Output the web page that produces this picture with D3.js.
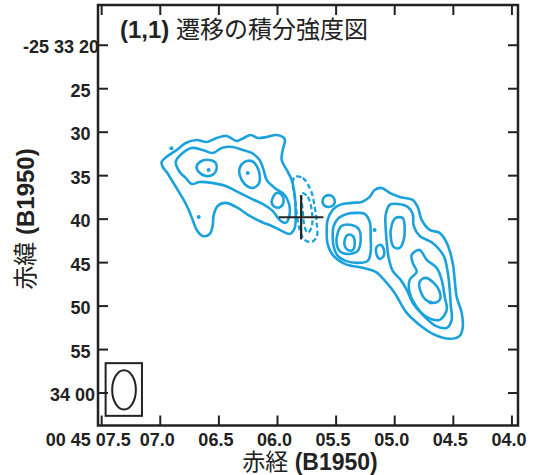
<!DOCTYPE html>
<html>
<head>
<meta charset="utf-8">
<script src="https://cdn.jsdelivr.net/npm/d3@7"></script>
<style>
body{margin:0;background:#fff;}
</style>
</head>
<body>
<svg width="537" height="475"></svg>
<script>
// RA seconds (00h45m..) on x, Dec arcsec past -25 33 00 on y
var raDomain=[7.527,3.944], decDomain=[15.43,63.79];
var raTicks=[7.5,7.0,6.5,6.0,5.5,5.0,4.5,4.0];
var raTickLabels=["00 45 07.5","07.0","06.5","06.0","05.5","05.0","04.5","04.0"];
var decTicks=[20,25,30,35,40,45,50,55,60];
var decTickLabels=["-25 33 20","25","30","35","40","45","50","55","34 00"];

// positive contours (solid)
var westOuter=[[6.984,33.48],[6.933,32.79],[6.856,32.10],[6.779,31.30],[6.685,30.95],[6.600,31.18],[6.515,30.72],[6.429,30.49],[6.344,31.07],[6.284,30.72],[6.224,30.38],[6.165,30.72],[6.088,30.61],[6.003,30.38],[5.934,30.84],[5.951,32.10],[5.960,33.25],[5.917,34.40],[5.875,35.55],[5.849,37.27],[5.841,39.23],[5.849,41.07],[5.892,41.76],[5.960,41.41],[6.045,40.84],[6.131,40.38],[6.233,39.69],[6.335,38.77],[6.438,38.19],[6.506,38.54],[6.540,39.57],[6.549,40.84],[6.574,41.76],[6.634,41.99],[6.685,41.30],[6.719,40.15],[6.753,39.00],[6.796,37.85],[6.847,36.70],[6.899,35.55],[6.941,34.63],[6.975,34.05]];
var westSecond=[[6.864,33.48],[6.805,32.45],[6.728,31.87],[6.634,32.10],[6.549,32.45],[6.472,31.87],[6.378,31.76],[6.293,32.10],[6.216,32.45],[6.148,33.25],[6.114,34.40],[6.088,35.55],[6.020,36.47],[5.943,37.16],[5.900,38.19],[5.892,39.46],[5.926,40.49],[5.977,40.15],[6.037,39.11],[6.122,38.31],[6.233,37.62],[6.335,36.93],[6.438,36.24],[6.557,35.89],[6.660,35.78],[6.728,36.01],[6.779,35.32],[6.830,34.63]];
var westPeakA=[[6.685,33.94],[6.643,33.37],[6.574,33.25],[6.523,33.60],[6.515,34.28],[6.549,34.97],[6.608,35.09],[6.668,34.63]];
var westPeakB=[[6.318,34.17],[6.276,33.48],[6.216,33.37],[6.173,33.94],[6.148,34.97],[6.156,36.01],[6.207,36.47],[6.276,36.01],[6.318,34.97]];
var westPeakC=[[6.037,37.62],[6.003,37.04],[5.960,37.27],[5.943,37.96],[5.969,38.65],[6.020,38.65],[6.045,38.19]];
var smallClump=[[5.610,37.85],[5.585,37.39],[5.533,37.39],[5.508,37.85],[5.516,38.42],[5.568,38.65],[5.602,38.42]];
var eastOuter=[[5.568,40.15],[5.525,39.00],[5.465,38.42],[5.363,38.19],[5.277,38.08],[5.209,37.50],[5.167,36.70],[5.107,36.47],[5.039,37.04],[4.953,37.50],[4.842,37.85],[4.800,38.65],[4.766,40.15],[4.697,41.30],[4.612,41.64],[4.552,42.79],[4.501,45.09],[4.484,47.04],[4.467,49.00],[4.424,50.84],[4.416,52.56],[4.441,53.48],[4.527,53.82],[4.655,53.36],[4.783,52.22],[4.893,50.84],[4.996,48.54],[5.064,47.39],[5.158,46.12],[5.269,45.66],[5.422,45.20],[5.525,44.17],[5.568,42.91],[5.576,41.53]];
var eastWest2=[[5.516,40.84],[5.474,39.92],[5.405,39.46],[5.320,39.34],[5.252,39.46],[5.209,40.38],[5.201,42.10],[5.201,43.83],[5.226,44.86],[5.312,45.09],[5.414,44.86],[5.482,44.29],[5.516,43.25],[5.525,41.99]];
var eastWest3=[[5.482,41.64],[5.448,40.84],[5.363,40.72],[5.303,41.18],[5.286,42.45],[5.312,43.71],[5.380,44.06],[5.457,43.83],[5.491,42.91]];
var eastWest4=[[5.422,42.45],[5.397,41.87],[5.354,41.99],[5.337,42.79],[5.354,43.60],[5.397,43.60],[5.422,43.14]];
var eastGap=[[5.149,43.25],[5.115,43.02],[5.090,43.48],[5.090,44.29],[5.124,44.63],[5.149,44.17]];
var eastEast2=[[5.073,39.57],[5.039,38.42],[4.970,38.31],[4.885,38.65],[4.842,39.46],[4.834,40.84],[4.783,41.99],[4.672,42.79],[4.578,44.29],[4.544,46.12],[4.527,48.08],[4.518,49.92],[4.510,51.64],[4.552,52.56],[4.646,52.33],[4.757,51.07],[4.842,49.69],[4.893,48.19],[4.945,47.04],[5.013,46.01],[5.047,44.51],[5.064,42.68],[5.073,41.07]];
var eastNorth3=[[5.021,40.72],[4.987,39.92],[4.928,39.92],[4.911,41.07],[4.919,42.45],[4.953,43.37],[5.004,43.25],[5.030,42.10]];
var eastEast3=[[4.851,44.17],[4.783,43.60],[4.723,44.74],[4.638,45.66],[4.595,47.04],[4.569,49.00],[4.552,50.49],[4.612,51.64],[4.723,51.30],[4.808,50.15],[4.868,48.54],[4.868,47.04],[4.808,46.12],[4.842,45.09]];
var eastEast4=[[4.783,47.27],[4.731,46.81],[4.663,47.39],[4.612,48.42],[4.612,49.34],[4.672,49.69],[4.731,49.34],[4.774,48.42]];
var positiveContours=[westOuter,westSecond,westPeakA,westPeakB,westPeakC,smallClump,eastOuter,eastWest2,eastWest3,eastWest4,eastGap,eastEast2,eastNorth3,eastEast3,eastEast4];
// tiny unresolved contour spots
var contourSpots=[[6.583,34.40],[6.250,34.74],[6.901,31.91],[6.668,39.80],[5.167,41.30],[4.691,49.65]];

// negative contours (dashed)
var negOuter=[[5.849,35.20],[5.781,35.32],[5.713,36.70],[5.678,38.65],[5.661,40.49],[5.661,42.10],[5.704,42.68],[5.764,42.45],[5.806,41.30],[5.832,39.34],[5.849,37.50],[5.866,35.89]];
var negInner=[[5.789,37.04],[5.738,37.50],[5.704,39.00],[5.704,40.95],[5.738,41.64],[5.764,40.95],[5.781,39.00]];
var negativeContours=[negOuter,negInner];

// source position cross and beam
var crossCenter=[5.794,39.84], crossArms=[0.19,2.55];
var beamCenter=[7.305,59.69], beamAxes=[0.101,2.26];
var beamFrame=[[7.462,56.62],[7.152,62.68]];

var mLeft=98,mRight=518,mTop=5,mBottom=425.5;
var lineColor="#1ba1dc";
var latin='"Liberation Sans", Arial, Helvetica, sans-serif';
var cjk='"Liberation Sans", Arial, "Noto Sans CJK JP", sans-serif';

var svg=d3.select('svg');

var x=d3.scaleLinear().domain(raDomain).range([mLeft,mRight]);
var y=d3.scaleLinear().domain(decDomain).range([mTop,mBottom]);

var contourLine=d3.line()
    .x(d=>x(d[0]))
    .y(d=>y(d[1]))
    .curve(d3.curveCatmullRomClosed.alpha(0.5));

svg.append('g').selectAll('path')
    .data(positiveContours)
    .enter()
    .append('path')
    .attr('d',contourLine)
    .attr('fill','none')
    .attr('stroke',lineColor)
    .attr('stroke-width',2.6)
    .attr('stroke-linejoin','round');

svg.append('g').selectAll('path')
    .data(negativeContours)
    .enter()
    .append('path')
    .attr('d',contourLine)
    .attr('fill','none')
    .attr('stroke',lineColor)
    .attr('stroke-width',2.3)
    .attr('stroke-dasharray','5,3');

svg.append('g').selectAll('circle')
    .data(contourSpots)
    .enter()
    .append('circle')
    .attr('cx',d=>x(d[0]))
    .attr('cy',d=>y(d[1]))
    .attr('r',2)
    .attr('fill',lineColor);

// cross
svg.append('line')
    .attr('x1',x(crossCenter[0]+crossArms[0])).attr('x2',x(crossCenter[0]-crossArms[0]))
    .attr('y1',y(crossCenter[1])).attr('y2',y(crossCenter[1]))
    .attr('stroke','#222').attr('stroke-width',2.2);
svg.append('line')
    .attr('x1',x(crossCenter[0])).attr('x2',x(crossCenter[0]))
    .attr('y1',y(crossCenter[1]-crossArms[1])).attr('y2',y(crossCenter[1]+crossArms[1]))
    .attr('stroke','#222').attr('stroke-width',2.2);

// beam
svg.append('rect')
    .attr('x',x(beamFrame[0][0])).attr('y',y(beamFrame[0][1]))
    .attr('width',x(beamFrame[1][0])-x(beamFrame[0][0]))
    .attr('height',y(beamFrame[1][1])-y(beamFrame[0][1]))
    .attr('fill','none').attr('stroke','#222').attr('stroke-width',2);
svg.append('ellipse')
    .attr('cx',x(beamCenter[0])).attr('cy',y(beamCenter[1]))
    .attr('rx',x(beamCenter[0]-beamAxes[0])-x(beamCenter[0]))
    .attr('ry',y(beamCenter[1]+beamAxes[1])-y(beamCenter[1]))
    .attr('fill','none').attr('stroke','#222').attr('stroke-width',2);

// axes, ticks pointing inward
function styleAxis(g){
    g.select('.domain').remove();
    g.selectAll('.tick line').attr('stroke','#222').attr('stroke-width',2);
    g.selectAll('text').attr('fill','#222')
        .style('font-family',latin).style('font-size','18px').style('font-weight','bold');
}

var xAxis=d3.axisBottom(x).tickValues(raTicks).tickSize(-10).tickPadding(8)
    .tickFormat((d,i)=>raTickLabels[i]);
svg.append('g').attr('transform','translate(0,'+mBottom+')').call(xAxis).call(styleAxis)
    .selectAll('text').attr('dx',(d,i)=>i===0?-13.5:-3);

svg.append('g').attr('transform','translate(0,'+mTop+')')
    .call(d3.axisTop(x).tickValues(raTicks).tickSize(-10).tickFormat(''))
    .call(styleAxis);

var yAxis=d3.axisLeft(y).tickValues(decTicks).tickSize(-10).tickPadding(7.5)
    .tickFormat((d,i)=>decTickLabels[i]);
svg.append('g').attr('transform','translate('+mLeft+',0)').call(yAxis).call(styleAxis)
    .selectAll('text')
    .attr('dy','0.45em')
    .attr('dx',(d,i)=>i===0?8.5:(i===decTicks.length-1?4.5:0));

svg.append('g').attr('transform','translate('+mRight+',0)')
    .call(d3.axisRight(y).tickValues(decTicks).tickSize(-10).tickFormat(''))
    .call(styleAxis);

svg.append('rect')
    .attr('x',mLeft).attr('y',mTop)
    .attr('width',mRight-mLeft).attr('height',mBottom-mTop)
    .attr('fill','none').attr('stroke','#222').attr('stroke-width',2.5);

// title
var title=svg.append('text').attr('x',120).attr('y',38)
    .attr('fill','#222').style('font-family',cjk).style('font-size','24px');
title.append('tspan').style('font-weight','bold').text('(1,1)');
title.append('tspan').text(' 遷移の積分強度図');

// axis titles
var xt=svg.append('text').attr('x',310).attr('y',469.5).attr('text-anchor','middle')
    .attr('fill','#222').style('font-family',cjk).style('font-size','23px');
xt.append('tspan').text('赤経 ');
xt.append('tspan').style('font-weight','bold').text('(B1950)');

var yt=svg.append('text').attr('transform','translate(34,219) rotate(-90)').attr('text-anchor','middle')
    .attr('fill','#222').style('font-family',cjk).style('font-size','24px');
yt.append('tspan').text('赤緯 ');
yt.append('tspan').style('font-weight','bold').text('(B1950)');
</script>
</body>
</html>
